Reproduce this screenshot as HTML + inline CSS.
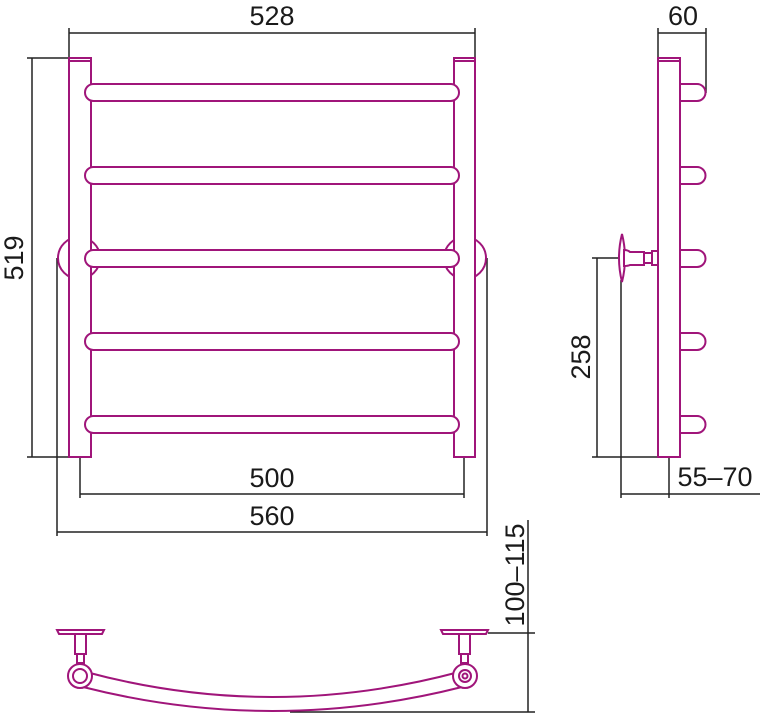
<!DOCTYPE html>
<html><head><meta charset="utf-8"><style>
html,body{margin:0;padding:0;background:#fff;}
svg{display:block;}
text{font-family:"Liberation Sans","DejaVu Sans",sans-serif;font-size:27px;fill:#1a1a1a;}
</style></head><body>
<svg width="762" height="716" viewBox="0 0 762 716" xmlns="http://www.w3.org/2000/svg">
<g fill="none" stroke="#222" stroke-width="1.5">
  <!-- 528 -->
  <line x1="69" y1="33" x2="475" y2="33"/>
  <line x1="69" y1="28" x2="69" y2="58"/>
  <line x1="475" y1="28" x2="475" y2="58"/>
  <!-- 519 -->
  <line x1="32" y1="58" x2="32" y2="457"/>
  <line x1="27" y1="58" x2="69" y2="58"/>
  <line x1="27" y1="457" x2="90" y2="457"/>
  <!-- 560 -->
  <line x1="57" y1="258" x2="57" y2="536"/>
  <line x1="487" y1="258" x2="487" y2="536"/>
  <line x1="57" y1="532" x2="487" y2="532"/>
  <!-- 500 -->
  <line x1="80" y1="457" x2="80" y2="498"/>
  <line x1="464" y1="457" x2="464" y2="498"/>
  <line x1="80" y1="494" x2="464" y2="494"/>
  <!-- 60 -->
  <line x1="658" y1="28" x2="658" y2="58"/>
  <line x1="706" y1="28" x2="706" y2="93"/>
  <line x1="658" y1="33" x2="706" y2="33"/>
  <!-- 258 -->
  <line x1="597" y1="258" x2="597" y2="457"/>
  <line x1="592" y1="258" x2="624" y2="258"/>
  <line x1="592" y1="457" x2="658" y2="457"/>
  <!-- 55-70 -->
  <line x1="621" y1="280" x2="621" y2="498"/>
  <line x1="669" y1="457" x2="669" y2="498"/>
  <line x1="621" y1="494" x2="760" y2="494"/>
  <!-- 100-115 -->
  <line x1="528" y1="520" x2="528" y2="712"/>
  <line x1="488" y1="633" x2="535" y2="633"/>
  <line x1="290" y1="712" x2="535" y2="712"/>
</g>
<g fill="#fff" stroke="#a0157a" stroke-width="2">
  <!-- wall mounts front -->
  <circle cx="79" cy="258" r="21"/>
  <circle cx="465" cy="258" r="21"/>
  <!-- posts -->
  <rect x="69" y="58" width="22" height="399"/>
  <rect x="454" y="58" width="21" height="399"/>
  <line x1="69" y1="61" x2="91" y2="61"/>
  <line x1="454" y1="61" x2="475" y2="61"/>
  <!-- bars -->
  <rect x="85" y="84" width="374" height="17" rx="8.5"/>
  <rect x="85" y="167" width="374" height="17" rx="8.5"/>
  <rect x="85" y="250" width="374" height="17" rx="8.5"/>
  <rect x="85" y="333" width="374" height="17" rx="8.5"/>
  <rect x="85" y="416" width="374" height="17" rx="8.5"/>
  <!-- side view hooks -->
  <path d="M678 84 H697 A8.5 8.5 0 0 1 697 101 H678 Z"/>
  <path d="M678 167 H697 A8.5 8.5 0 0 1 697 184 H678 Z"/>
  <path d="M678 250 H697 A8.5 8.5 0 0 1 697 267 H678 Z"/>
  <path d="M678 333 H697 A8.5 8.5 0 0 1 697 350 H678 Z"/>
  <path d="M678 416 H697 A8.5 8.5 0 0 1 697 433 H678 Z"/>
  <rect x="658" y="58" width="22" height="399"/>
  <line x1="658" y1="61" x2="680" y2="61"/>
  <!-- side bracket -->
  <path d="M622 234 Q616 258 622 282 Q628 258 622 234 Z"/>
  <path d="M624 250 Q628 250 630 252 H644 V265 H630 Q628 266 624 266 Z"/>
  <rect x="644" y="253" width="8" height="10"/>
  <rect x="652" y="251" width="6" height="14"/>
  <!-- bottom view -->
  <path d="M57 630 H104 L102 634 H59 Z"/>
  <path d="M441 630 H488 L486 634 H443 Z"/>
  <rect x="75" y="634" width="11" height="20"/>
  <rect x="77" y="654" width="7" height="9"/>
  <rect x="459" y="634" width="11" height="20"/>
  <rect x="461" y="654" width="7" height="9"/>
  <path d="M86 672 Q272 722 459 672 L462 687 Q272 735 83 687 Z"/>
  <circle cx="80" cy="676" r="12"/>
  <circle cx="80" cy="676" r="7"/>
  <circle cx="465" cy="676" r="12"/>
  <circle cx="465" cy="676" r="6"/>
  <circle cx="465" cy="676" r="2.5"/>
</g>
<g text-anchor="middle">
  <text x="272" y="25">528</text>
  <text x="683" y="25">60</text>
  <text x="272" y="487">500</text>
  <text x="272" y="525">560</text>
  <text x="715" y="486">55–70</text>
  <text transform="translate(23,258) rotate(-90)">519</text>
  <text transform="translate(590,357) rotate(-90)">258</text>
  <text transform="translate(524,575) rotate(-90)">100–115</text>
</g>
</svg>
</body></html>
